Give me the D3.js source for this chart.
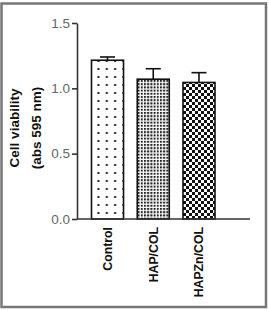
<!DOCTYPE html>
<html>
<head>
<meta charset="utf-8">
<script src="https://cdn.jsdelivr.net/npm/d3@7"></script>
<style>
  body { margin: 0; background: #fff; }
  svg { display: block; font-family: "Liberation Sans", Arial, sans-serif; }
</style>
</head>
<body>
<svg id="chart" width="269" height="310"></svg>
<script>
// data
const categories = ["Control", "HAP/COL", "HAPZn/COL"];
const means = [1.215, 1.07, 1.045];
const errors = [0.025, 0.08, 0.075];
const yTicks = [0.0, 0.5, 1.0, 1.5];
const patterns = ["dots", "grid", "checker"];

const svg = d3.select("#chart");

// outer frame
svg.append("rect")
  .attr("x", 1.5).attr("y", 3.5)
  .attr("width", 264.5).attr("height", 303.5)
  .attr("fill", "none").attr("stroke", "#777").attr("stroke-width", 2.5);

// fill patterns
const defs = svg.append("defs");
const pDots = defs.append("pattern").attr("id", "dots")
  .attr("patternUnits", "userSpaceOnUse").attr("width", 8.3).attr("height", 8)
  .attr("x", 94.5).attr("y", 1);
pDots.append("rect").attr("width", 8.3).attr("height", 8).attr("fill", "#fff");
pDots.append("rect").attr("x", 3).attr("y", 3).attr("width", 2).attr("height", 2).attr("fill", "#222");

const pGrid = defs.append("pattern").attr("id", "grid")
  .attr("patternUnits", "userSpaceOnUse").attr("width", 3.2).attr("height", 3.2);
pGrid.append("rect").attr("width", 3.2).attr("height", 3.2).attr("fill", "#fff");
pGrid.append("rect").attr("width", 2).attr("height", 2).attr("fill", "#222");

const pCheck = defs.append("pattern").attr("id", "checker")
  .attr("patternUnits", "userSpaceOnUse").attr("width", 6).attr("height", 6);
pCheck.append("rect").attr("width", 6).attr("height", 6).attr("fill", "#fff");
pCheck.append("rect").attr("width", 3).attr("height", 3).attr("fill", "#111");
pCheck.append("rect").attr("x", 3).attr("y", 3).attr("width", 3).attr("height", 3).attr("fill", "#111");

// scales
const x = d3.scaleBand().domain(categories).range([77, 229.5])
  .paddingInner(0.3).paddingOuter(0.317);
const y = d3.scaleLinear().domain([0, 1.5]).range([219, 23]);

// bars
svg.selectAll("rect.bar")
  .data(categories)
  .join("rect")
  .attr("class", "bar")
  .attr("x", d => x(d))
  .attr("y", (d, i) => y(means[i]))
  .attr("width", x.bandwidth())
  .attr("height", (d, i) => y(0) - y(means[i]))
  .attr("fill", (d, i) => `url(#${patterns[i]})`)
  .attr("stroke", "#111").attr("stroke-width", 1.6);

// error bars (upper only)
const CAP = 15;
const eb = svg.append("g").attr("stroke", "#111").attr("stroke-width", 1.6);
categories.forEach((c, i) => {
  const cx = x(c) + x.bandwidth() / 2;
  eb.append("line").attr("x1", cx).attr("x2", cx)
    .attr("y1", y(means[i])).attr("y2", y(means[i] + errors[i]));
  eb.append("line").attr("x1", cx - CAP / 2).attr("x2", cx + CAP / 2)
    .attr("y1", y(means[i] + errors[i])).attr("y2", y(means[i] + errors[i]));
});

// y axis
const yAxis = svg.append("g")
  .attr("transform", "translate(77,0)")
  .call(d3.axisLeft(y).tickValues(yTicks).tickFormat(d3.format(".1f")).tickSize(5).tickSizeOuter(0));
yAxis.select(".domain").attr("stroke", "#333").attr("stroke-width", 1.6);
yAxis.selectAll(".tick line").attr("stroke", "#333").attr("stroke-width", 1.6);
yAxis.selectAll("text").attr("font-size", 13.5).attr("fill", "#666")
  .attr("font-family", "Liberation Sans, Arial, sans-serif").attr("x", -7);

// x axis
const xAxis = svg.append("g")
  .attr("transform", "translate(0,219)")
  .call(d3.axisBottom(x).tickSize(0).tickSizeOuter(0));
xAxis.select(".domain").attr("d", "M77,0H250").attr("stroke", "#333").attr("stroke-width", 1.6);
xAxis.selectAll("text")
  .attr("font-size", 12.3).attr("font-weight", "bold").attr("fill", "#111")
  .attr("font-family", "Liberation Sans, Arial, sans-serif")
  .attr("transform", "rotate(-90)")
  .attr("text-anchor", "end")
  .attr("x", -8).attr("y", 0).attr("dy", "0.35em");

// y axis title
const title = svg.append("text")
  .attr("transform", "translate(19,128) rotate(-90)")
  .attr("text-anchor", "middle")
  .attr("font-size", 13.5).attr("font-weight", "bold").attr("fill", "#111");
title.append("tspan").attr("x", 0).attr("y", 0).text("Cell viability");
title.append("tspan").attr("x", 0).attr("y", 22).text("(abs 595 nm)");
</script>
</body>
</html>
